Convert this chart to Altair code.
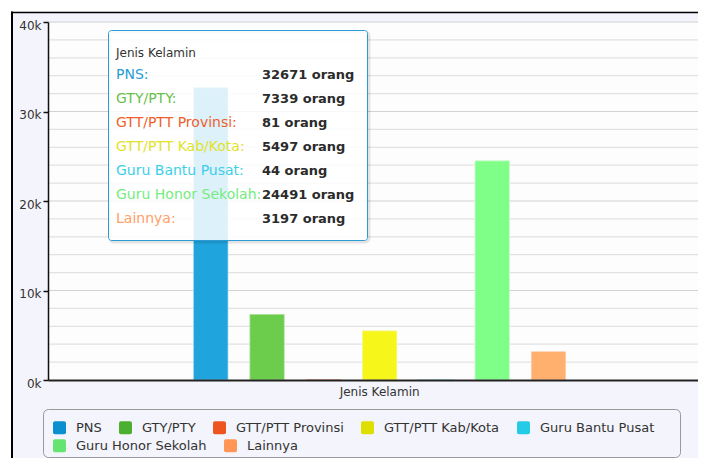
import altair as alt
import pandas as pd

# ---- data ----
categories = ["Jenis Kelamin"]
series = ["PNS", "GTY/PTY", "GTT/PTT Provinsi", "GTT/PTT Kab/Kota",
          "Guru Bantu Pusat", "Guru Honor Sekolah", "Lainnya"]
values = [32671, 7339, 81, 5497, 44, 24491, 3197]
unit = "orang"
legend_colors = ["#0b8fce", "#4daf2f", "#ee5420", "#dede00", "#24cbe5", "#64e572", "#ff9655"]
bar_colors = ["#1fa4de", "#6ccd4c", "#ff6f36", "#f6f61a", "#3de0f7", "#80ff88", "#ffaf6e"]
tip_colors = ["#2a9bd6", "#68bf49", "#f05e2b", "#e2e228", "#3ccfe9", "#74ec80", "#ffa068"]
legend_row1 = 5  # series in the first legend row
minor_ticks = [2000, 4000, 6000, 8000, 12000, 14000, 16000, 18000,
               22000, 24000, 26000, 28000, 32000, 34000, 36000, 38000]
major_ticks = [0, 10000, 20000, 30000, 40000]

W, H = 658, 358
FONT = "DejaVu Sans"

df = pd.DataFrame({
    "category": [categories[0]] * len(series),
    "series": series,
    "value": values,
    "bar_color": bar_colors,
    "tip_color": tip_colors,
    "name_label": [s + ":" for s in series],
    "label": [f"{v} {unit}" for v in values],
})
df1 = df.iloc[:legend_row1]
df2 = df.iloc[legend_row1:]
one = pd.DataFrame({"category": categories})

yscale = alt.Scale(domain=[0, 40000], nice=False, zero=True)
xscale = alt.Scale(paddingInner=0, paddingOuter=0.335, align=0.51)
xoffscale = alt.Scale(domain=series, paddingInner=0.385, paddingOuter=0.1925)

rounded_sq = ("M -0.7,-1 L 0.7,-1 Q 1,-1 1,-0.7 L 1,0.7 Q 1,1 0.7,1 "
              "L -0.7,1 Q -1,1 -1,0.7 L -1,-0.7 Q -1,-1 -0.7,-1 Z")


def make_legend(y):
    return alt.Legend(
        title=None, orient="none", legendX=5, legendY=y,
        direction="horizontal", padding=0,
        symbolType=rounded_sq, symbolSize=169, symbolOpacity=1, symbolStrokeWidth=0,
        labelFont=FONT, labelFontSize=13, labelColor="#333333", labelOffset=10,
        labelLimit=300, columnPadding=17,
    )


xaxis = alt.Axis(title=None, labelAngle=0, ticks=False, domainColor="#222222",
                 domainWidth=2, labelFont=FONT, labelFontSize=12,
                 labelColor="#333333", labelPadding=6, zindex=1)
yaxis = alt.Axis(title=None, values=major_ticks, labelExpr="datum.value / 1000 + 'k'",
                 grid=False, domainColor="#111111", domainWidth=1.5,
                 tickColor="#111111", tickSize=5, tickWidth=1.5, labelPadding=2,
                 labelFont=FONT, labelFontSize=12, labelColor="#333333",
                 labelOffset=3, zindex=1)

# ---- frame decoration ----
white_left = alt.Chart(one).mark_rect(color="#ffffff").encode(
    x=alt.value(-40), x2=alt.value(-37), y=alt.value(-14), y2=alt.value(520))
white_top = alt.Chart(one).mark_rect(color="#ffffff").encode(
    x=alt.value(-40), x2=alt.value(720), y=alt.value(-14), y2=alt.value(-10.5))
frame_v = alt.Chart(one).mark_rule(color="#000000", strokeWidth=2).encode(
    x=alt.value(-36), y=alt.value(-10.5), y2=alt.value(520))
frame_h = alt.Chart(one).mark_rule(color="#000000", strokeWidth=1.6).encode(
    x=alt.value(-37), x2=alt.value(720), y=alt.value(-9.5))
legend_box = alt.Chart(one).mark_rect(cornerRadius=5, fillOpacity=0, stroke="#999999",
                                      strokeWidth=1).encode(
    x=alt.value(-4.5), x2=alt.value(632.5), y=alt.value(387.5), y2=alt.value(435.5))

# ---- grid ----
grid_minor = alt.Chart(pd.DataFrame({"v": minor_ticks})).mark_rule(
    color="#e2e2e2", strokeWidth=1.2).encode(
    y=alt.Y("v:Q", scale=yscale, axis=None), x=alt.value(0), x2=alt.value(W))
grid_major = alt.Chart(pd.DataFrame({"v": major_ticks[1:]})).mark_rule(
    color="#d2d2d2", strokeWidth=1.2).encode(
    y=alt.Y("v:Q", scale=yscale, axis=None), x=alt.value(0), x2=alt.value(W))

# ---- bars (two layers so that the legend wraps like the reference) ----
bars_a = alt.Chart(df1).mark_bar().encode(
    x=alt.X("category:N", scale=xscale, axis=xaxis),
    xOffset=alt.XOffset("series:N", scale=xoffscale),
    y=alt.Y("value:Q", scale=yscale, axis=yaxis),
    color=alt.Color("series:N", sort=series[:legend_row1],
                    scale=alt.Scale(domain=series[:legend_row1],
                                    range=legend_colors[:legend_row1]),
                    legend=make_legend(399)),
)
bars_b = alt.Chart(df2).mark_bar().encode(
    x=alt.X("category:N"),
    xOffset=alt.XOffset("series:N"),
    y=alt.Y("value:Q", scale=yscale, axis=None),
    color=alt.Color("series:N", sort=series[legend_row1:],
                    scale=alt.Scale(domain=series[legend_row1:],
                                    range=legend_colors[legend_row1:]),
                    legend=make_legend(417)),
)
bars_top = alt.Chart(df).mark_bar(stroke="#ffffff", strokeWidth=1, strokeOpacity=0.5).encode(
    x=alt.X("category:N"),
    xOffset=alt.XOffset("series:N"),
    y=alt.Y("value:Q", scale=yscale, axis=None),
    fill=alt.Fill("bar_color:N", scale=None),
)

# ---- tooltip ----
tip_shadow = alt.Chart(one).mark_rect(cornerRadius=4, fillOpacity=0, stroke="#000000",
                                      strokeOpacity=0.1, strokeWidth=3).encode(
    x=alt.value(62), x2=alt.value(321), y=alt.value(10), y2=alt.value(220))
tip_box = alt.Chart(one).mark_rect(cornerRadius=3, fill="#ffffff", fillOpacity=0.85,
                                   stroke="#2b9bd6", strokeWidth=1).encode(
    x=alt.value(60.5), x2=alt.value(319.5), y=alt.value(8.5), y2=alt.value(218.5))
tip_header = alt.Chart(one).mark_text(align="left", baseline="middle", font=FONT,
                                      fontSize=12, color="#333333").encode(
    x=alt.value(68), y=alt.value(30.5), text="category:N")
rows = alt.Y("series:N", sort=series,
             scale=alt.Scale(type="point", range=[52.5, 196.5], padding=0), axis=None)
tip_names = alt.Chart(df).mark_text(align="left", baseline="middle", font=FONT,
                                    fontSize=14).encode(
    x=alt.value(68), y=rows, text="name_label:N",
    color=alt.Color("tip_color:N", scale=None))
tip_values = alt.Chart(df).mark_text(align="left", baseline="middle", font=FONT,
                                     fontSize=13, fontWeight="bold", color="#2b2b2b").encode(
    x=alt.value(214), y=rows, text="label:N")

chart = alt.layer(
    white_left, white_top, frame_v, frame_h, legend_box,
    grid_minor, grid_major, bars_a, bars_b, bars_top,
    tip_shadow, tip_box, tip_header, tip_names, tip_values,
).resolve_scale(y="independent", color="independent").properties(
    width=W, height=H,
    autosize=alt.AutoSizeParams(type="none"),
    padding={"left": 40, "top": 14, "right": -8, "bottom": 78},
).configure(background="#f4f4fc").configure_view(fill="#fdfdfd", stroke="transparent")

chart.save("out.html", embed_options={"renderer": "svg", "actions": False})
